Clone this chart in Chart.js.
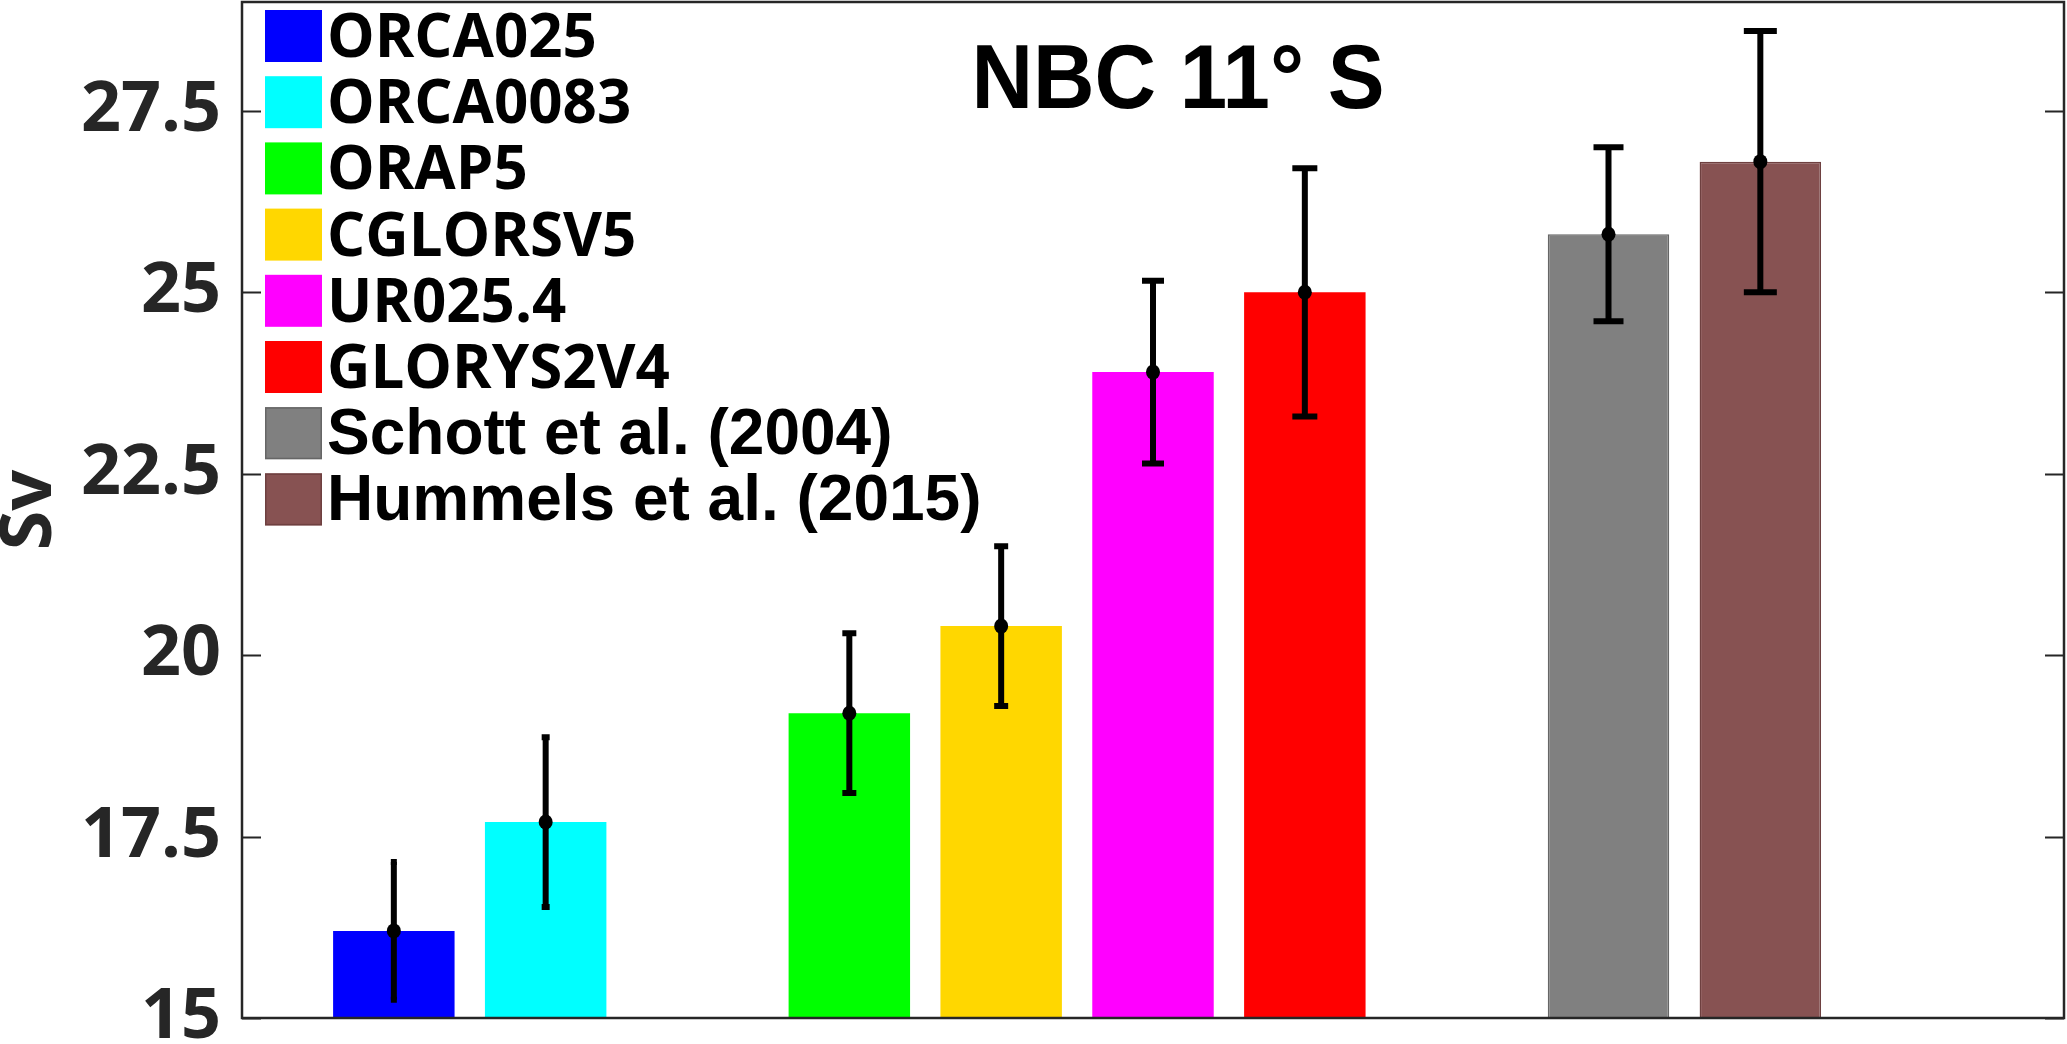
<!DOCTYPE html>
<html>
<head>
<meta charset="utf-8">
<script src="https://cdn.jsdelivr.net/npm/chart.js@4.4.1/dist/chart.umd.min.js"></script>
<style>
  html, body { margin: 0; padding: 0; background: #ffffff; }
  #wrap { width: 2067px; height: 1044px; }
  canvas { display: block; }
</style>
</head>
<body>
<div id="wrap"><canvas id="c" width="2067" height="1044"></canvas></div>
<script>
// ---- data ----
const categories = ['ORCA025', 'ORCA0083', 'ORAP5', 'CGLORSV5', 'UR025.4', 'GLORYS2V4', 'Schott et al. (2004)', 'Hummels et al. (2015)'];
const positions = [1, 2, 4, 5, 6, 7, 9, 10];
const transport = [16.2, 17.7, 19.2, 20.4, 23.9, 25.0, 25.8, 26.8];
const errors = [0.95, 1.17, 1.1, 1.1, 1.26, 1.71, 1.2, 1.8];
const yTicks = [15, 17.5, 20, 22.5, 25, 27.5];
const chartTitle = 'NBC 11\u00B0 S';
const yLabel = 'Sv';

// ---- styles ----
const fillColors = ['#0000FF', '#00FFFF', '#00FF00', '#FFD700', '#FF00FF', '#FF0000', '#808080', '#875252'];
const edgeColors = ['#0000FF', '#00FFFF', '#00FF00', '#FFD700', '#FF00FF', '#FF0000', '#666666', '#6e4040'];
const edgeWidths = [0, 0, 0, 0, 0, 0, 1.5, 1.5];
const capWidths = [6, 8, 14, 14, 22, 25, 30, 33];
const legendFonts = ['bold 60px "Open Sans"', 'bold 60px "Open Sans"', 'bold 60px "Open Sans"', 'bold 60px "Open Sans"', 'bold 60px "Open Sans"', 'bold 60px "Open Sans"', 'bold 64px "Liberation Sans"', 'bold 64px "Liberation Sans"'];
const axisColor = '#262626';

const datasets = categories.map((name, i) => ({
  label: name,
  data: [{ x: positions[i], y: transport[i] }],
  backgroundColor: fillColors[i],
  borderColor: edgeColors[i],
  borderWidth: edgeWidths[i],
  grouped: false,
  categoryPercentage: 1.0,
  barPercentage: 0.8,
  base: 15
}));

const framePlugin = {
  id: 'frame',
  afterDraw(chart) {
    const { ctx, chartArea: a, scales } = chart;
    const y = scales.y;
    ctx.save();
    ctx.strokeStyle = axisColor;
    ctx.lineWidth = 2.5;
    ctx.strokeRect(a.left, a.top, a.right - a.left, a.bottom - a.top);
    ctx.lineWidth = 2;
    yTicks.forEach(v => {
      const py = Math.round(y.getPixelForValue(v)) + 0.5;
      ctx.beginPath();
      ctx.moveTo(a.left, py); ctx.lineTo(a.left + 19, py);
      ctx.moveTo(a.right, py); ctx.lineTo(a.right - 19, py);
      ctx.stroke();
    });
    ctx.restore();
  }
};

const errorPlugin = {
  id: 'errs',
  afterDatasetsDraw(chart) {
    const { ctx, scales } = chart;
    const y = scales.y;
    ctx.save();
    ctx.strokeStyle = '#000';
    ctx.fillStyle = '#000';
    chart.data.datasets.forEach((ds, i) => {
      const el = chart.getDatasetMeta(i).data[0];
      if (!el) return;
      const px = el.x;
      const v = transport[i], e = errors[i];
      const yTop = y.getPixelForValue(v + e);
      const yBot = y.getPixelForValue(v - e);
      const yMid = y.getPixelForValue(v);
      ctx.lineWidth = 6;
      ctx.beginPath();
      ctx.moveTo(px, yTop); ctx.lineTo(px, yBot);
      ctx.stroke();
      const hw = capWidths[i] / 2;
      ctx.beginPath();
      ctx.moveTo(px - hw, yTop); ctx.lineTo(px + hw, yTop);
      ctx.moveTo(px - hw, yBot); ctx.lineTo(px + hw, yBot);
      ctx.stroke();
      ctx.beginPath();
      ctx.ellipse(px, yMid, 7, 7.5, 0, 0, Math.PI * 2);
      ctx.fill();
    });
    ctx.restore();
  }
};

const legendTitlePlugin = {
  id: 'legendTitle',
  afterDraw(chart) {
    const { ctx } = chart;
    ctx.save();
    const sx = 265, sw = 57, sh = 52, top0 = 10, step = 66.2;
    chart.data.datasets.forEach((ds, i) => {
      const t = top0 + i * step;
      ctx.fillStyle = fillColors[i];
      ctx.fillRect(sx, t, sw, sh);
      if (edgeWidths[i] > 0) {
        ctx.strokeStyle = edgeColors[i];
        ctx.lineWidth = 1.5;
        ctx.strokeRect(sx + 0.75, t + 0.75, sw - 1.5, sh - 1.5);
      }
      ctx.fillStyle = '#000';
      ctx.font = legendFonts[i];
      ctx.textBaseline = 'alphabetic';
      ctx.textAlign = 'left';
      ctx.fillText(ds.label, sx + sw + 5, t + sh / 2 + 21);
    });
    ctx.font = 'bold 90px "Liberation Sans"';
    ctx.fillStyle = '#000';
    ctx.textAlign = 'center';
    ctx.textBaseline = 'alphabetic';
    const w = ctx.measureText(chartTitle).width;
    const sc = 413 / w;
    ctx.translate(1178, 108);
    ctx.scale(sc, 1);
    ctx.fillText(chartTitle, 0, 0);
    ctx.restore();
  }
};

new Chart(document.getElementById('c'), {
  type: 'bar',
  data: { datasets },
  options: {
    responsive: false,
    animation: false,
    devicePixelRatio: 1,
    layout: { padding: { top: 2, right: 3, bottom: 26, left: 0 } },
    plugins: {
      legend: { display: false },
      tooltip: { enabled: false },
      title: { display: false }
    },
    scales: {
      x: {
        type: 'linear',
        min: 0,
        max: 12,
        offset: false,
        display: false,
        ticks: { stepSize: 1 },
        grid: { display: false, offset: false }
      },
      y: {
        type: 'linear',
        min: 15,
        max: 29,
        afterBuildTicks(scale) { scale.ticks = yTicks.map(v => ({ value: v })); },
        afterFit(scale) { scale.width = 242; scale.paddingTop = 0; scale.paddingBottom = 0; },
        grid: { display: false, drawTicks: false },
        border: { display: false },
        ticks: {
          padding: 21,
          color: axisColor,
          font: { family: '"Open Sans"', weight: 'bold', size: 70 },
          callback: v => String(v)
        },
        title: {
          display: true,
          text: yLabel,
          color: axisColor,
          font: { family: '"Open Sans"', weight: 'bold', size: 72, lineHeight: 0.85 },
          padding: { top: 0, bottom: 0 }
        }
      }
    }
  },
  plugins: [framePlugin, errorPlugin, legendTitlePlugin]
});
</script>
</body>
</html>
